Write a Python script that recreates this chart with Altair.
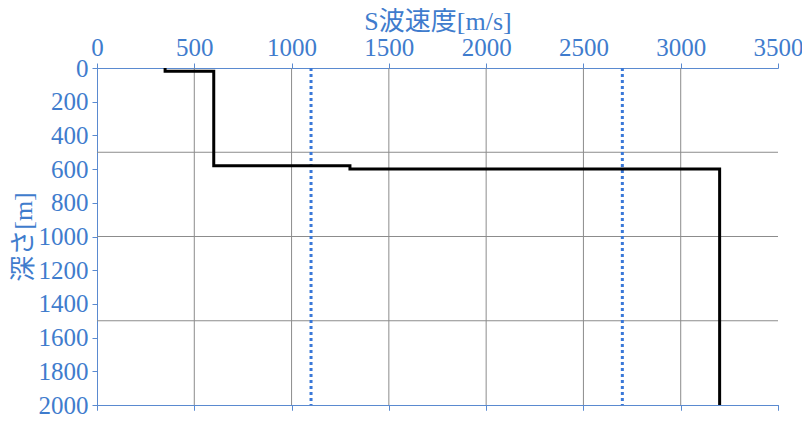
import altair as alt
import pandas as pd

# step profile
vs = [350, 350, 600, 600, 1300, 1300, 3200, 3200]
depth = [0, 20, 20, 580, 580, 600, 600, 2000]
# dotted reference lines
ref_vs = [1100, 2700]
# gridlines
vgrid = [500, 1000, 1500, 2000, 2500, 3000]
hgrid = [500, 1000, 1500]

x_ticks = [0, 500, 1000, 1500, 2000, 2500, 3000, 3500]
y_ticks = [0, 200, 400, 600, 800, 1000, 1200, 1400, 1600, 1800, 2000]

BLUE = "#3f7ccd"
AXBLUE = "#5a8ad0"
FONT = "Liberation Serif, Noto Sans CJK JP"

prof = pd.DataFrame({"v": vs, "d": depth, "o": list(range(len(vs)))})
refs = pd.DataFrame({"v": ref_vs})
vg = pd.DataFrame({"v": vgrid})
hg = pd.DataFrame({"d": hgrid})

xs = alt.Scale(domain=[0, 3500], nice=False)
ys = alt.Scale(domain=[0, 2000], reverse=True, nice=False)

W, H = 681, 337

top_axis = alt.Axis(orient="top", values=x_ticks, format="d", title="S波速度[m/s]", grid=False,
                    domainColor=AXBLUE, tickColor=AXBLUE, tickSize=5,
                    labelColor=BLUE, titleColor=BLUE, labelFont=FONT, titleFont=FONT,
                    labelFontSize=25, titleFontSize=26, titleFontWeight="normal",
                    labelPadding=3, titlePadding=1, labelOverlap=False, labelFlush=False)
bottom_axis = alt.Axis(orient="bottom", values=x_ticks, title=None, labels=False, grid=False,
                       domainColor=AXBLUE, tickColor=AXBLUE, tickSize=5)
y_axis = alt.Axis(orient="left", values=y_ticks, format="d", title="深さ[m]", grid=False,
                  domainColor=AXBLUE, tickColor=AXBLUE, tickSize=5,
                  labelColor=BLUE, titleColor=BLUE, labelFont=FONT, titleFont=FONT,
                  labelFontSize=25, titleFontSize=26, titleFontWeight="normal",
                  labelPadding=4, titlePadding=2, labelOverlap=False, labelFlush=False)

vgrid_l = alt.Chart(vg).mark_rule(color="#8c8c8c", strokeWidth=1).encode(
    x=alt.X("v:Q", scale=xs, axis=top_axis),
    y=alt.value(0), y2=alt.value(H))
hgrid_l = alt.Chart(hg).mark_rule(color="#8c8c8c", strokeWidth=1).encode(
    y=alt.Y("d:Q", scale=ys, axis=y_axis),
    x=alt.value(0), x2=alt.value(W))
ref_l = alt.Chart(refs).mark_rule(color="#3a78d8", strokeWidth=3, strokeDash=[3, 3]).encode(
    x=alt.X("v:Q", scale=xs, axis=bottom_axis),
    y=alt.value(0), y2=alt.value(H))
line_l = alt.Chart(prof).mark_line(color="black", strokeWidth=3, strokeJoin="miter", clip=True).encode(
    x=alt.X("v:Q", scale=xs, axis=bottom_axis),
    y=alt.Y("d:Q", scale=ys, axis=y_axis),
    order="o:Q")

chart = alt.layer(vgrid_l, hgrid_l, ref_l, line_l).resolve_axis(x="independent").properties(
    width=W, height=H,
    autosize=alt.AutoSizeParams(type="none"),
    padding={"left": 89, "top": 60, "right": 24, "bottom": 13},
    background="white",
).configure_view(stroke=None)

chart.save("out.html", embed_options={"renderer": "svg", "actions": False})
